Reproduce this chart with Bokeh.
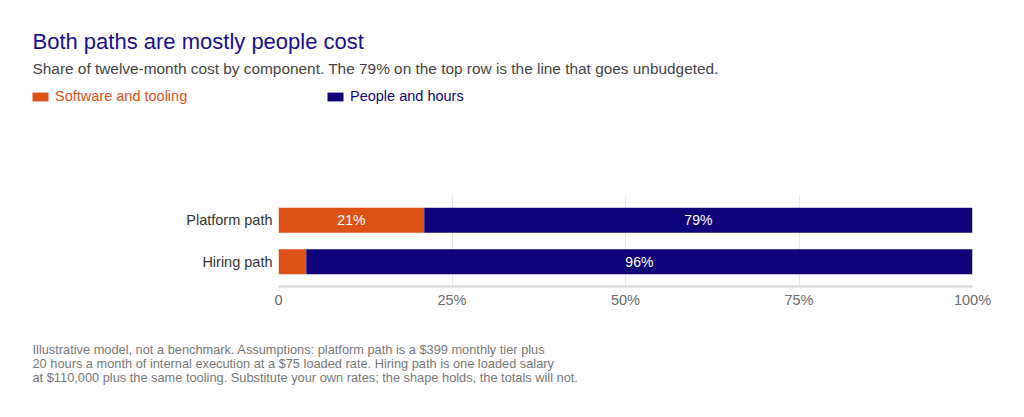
from bokeh.plotting import figure
from bokeh.models import (ColumnDataSource, FactorRange, Range1d, FixedTicker,
                          Label, Legend, LegendItem)
from bokeh.core.properties import value
from bokeh.embed import file_html
from bokeh.resources import INLINE

# data
paths = ["Platform path", "Hiring path"]
software = [21, 4]
people = [79, 96]
tick_values = [0, 25, 50, 75, 100]
tick_labels = ["0", "25%", "50%", "75%", "100%"]
series = ["Software and tooling", "People and hours"]

title = "Both paths are mostly people cost"
subtitle = ("Share of twelve-month cost by component. The 79% on the top row "
            "is the line that goes unbudgeted.")
notes = [
    "Illustrative model, not a benchmark. Assumptions: platform path is a $399 monthly tier plus",
    "20 hours a month of internal execution at a $75 loaded rate. Hiring path is one loaded salary",
    "at $110,000 plus the same tooling. Substitute your own rates; the shape holds, the totals will not.",
]

ORANGE = "#dc5115"
NAVY = "#10037a"
FONT = "Liberation Sans"
W = 1024


def blank(height):
    f = figure(width=W, height=height, output_backend="svg", toolbar_location=None,
               x_range=Range1d(0, W), y_range=Range1d(0, height),
               x_axis_type=None, y_axis_type=None,
               min_border=0, outline_line_color=None)
    f.grid.grid_line_color = None
    return f


def add_text(f, txt, x, y, size, color):
    f.add_layout(Label(x=x, y=y, x_units="screen", y_units="screen", text=txt,
                       text_font=FONT, text_font_size=size, text_color=color,
                       text_baseline="middle"))


# header: title, subtitle, legend
top = blank(110)
add_text(top, title, 32, 69, "22px", "#1b0e93")
add_text(top, subtitle, 32, 42, "15.4px", "#444444")
for lab, col, lx in ((series[0], ORANGE, 30), (series[1], NAVY, 325)):
    # zero-width bar, only there to give the legend its swatch
    r = top.hbar(y=[0], left=[0], right=[0], height=1, color=col, line_color=None)
    leg = Legend(items=[LegendItem(label=lab, renderers=[r])],
                 location=(lx, 6), orientation="horizontal",
                 padding=0, margin=0, spacing=0,
                 glyph_width=20, glyph_height=11, label_height=11,
                 label_standoff=5, label_text_color=col,
                 label_text_font_size="14.5px", label_text_font=FONT,
                 border_line_color=None, background_fill_alpha=0)
    top.add_layout(leg, "center")

# main chart
src = ColumnDataSource(dict(
    path=paths,
    sw_left=[0] * len(paths), sw_right=software,
    pp_left=software, pp_right=[s + q for s, q in zip(software, people)],
    sw_mid=[s / 2 for s in software],
    pp_mid=[s + q / 2 for s, q in zip(software, people)],
    sw_text=[f"{v}%" if v >= 10 else "" for v in software],
    pp_text=[f"{v}%" if v >= 10 else "" for v in people],
))

p = figure(width=W, height=210, output_backend="svg", toolbar_location=None,
           y_range=FactorRange(factors=paths[::-1], range_padding=0.096),
           x_range=Range1d(0, 100),
           min_border_left=278, min_border_right=52,
           min_border_top=85, min_border_bottom=34)
p.outline_line_color = None

p.hbar(y="path", left="sw_left", right="sw_right", height=0.6,
       color=ORANGE, line_color=None, source=src)
p.hbar(y="path", left="pp_left", right="pp_right", height=0.6,
       color=NAVY, line_color=None, source=src)

for col_x, col_t in (("sw_mid", "sw_text"), ("pp_mid", "pp_text")):
    p.text(x=col_x, y="path", text=col_t, source=src, text_color="white",
           text_align="center", text_baseline="middle",
           text_font_size="14px", text_font=value(FONT))

p.xaxis.ticker = FixedTicker(ticks=tick_values)
p.xaxis.major_label_overrides = dict(zip(tick_values, tick_labels))
p.xaxis.axis_line_color = "#d8d3ce"
p.xaxis.axis_line_width = 2
p.xaxis.major_tick_out = 0
p.xaxis.major_tick_in = 0
p.xaxis.major_tick_line_color = None
p.xaxis.minor_tick_line_color = None
p.xaxis.major_label_text_color = "#6b6b6b"
p.xaxis.major_label_text_font_size = "14.5px"
p.xaxis.major_label_text_font = FONT
p.xaxis.major_label_standoff = 5

p.yaxis.axis_line_color = None
p.yaxis.major_tick_out = 0
p.yaxis.major_tick_in = 0
p.yaxis.major_tick_line_color = None
p.yaxis.minor_tick_line_color = None
p.yaxis.major_label_text_color = "#333333"
p.yaxis.major_label_text_font_size = "14.5px"
p.yaxis.major_label_text_font = FONT
p.yaxis.major_label_standoff = 6

p.ygrid.grid_line_color = None
p.xgrid.grid_line_color = "#e8e8e8"

# footnote
bottom = blank(96)
for i, line in enumerate(notes):
    add_text(bottom, line, 32, 67 - 14 * i, "12.8px", "#777777")

# three separate roots, stacked by the page itself
open("out.html", "w").write(file_html([top, p, bottom], INLINE))
